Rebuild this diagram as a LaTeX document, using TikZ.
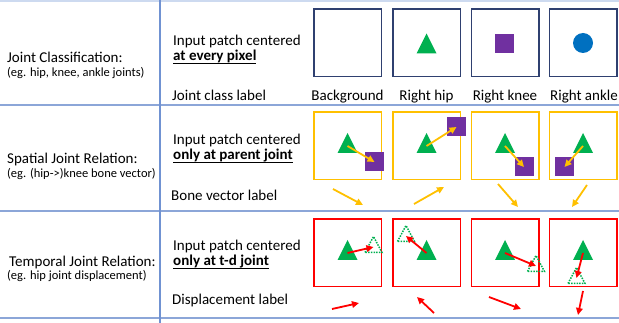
\documentclass[tikz,border=0pt]{standalone}
\usepackage{fontspec}
\setmainfont{Carlito}
\usetikzlibrary{arrows.meta}

\newsavebox\ulbox
\newcommand\ulbold[1]{\sbox\ulbox{\textbf{#1}}\rlap{\rule[-3.2pt]{\wd\ulbox}{1.1pt}}\usebox\ulbox}
\newcommand\hipjoint[1]{\fill[hipc] (#1) ++(-10,7) -- ++(10,-20) -- ++(10,20) -- cycle;}
\newcommand\ghostjoint[1]{\draw[hipc, line width=1.5pt, dash pattern=on 1.5pt off 1.2pt] (#1) ++(-8.5,5.5) -- ++(8.5,-16) -- ++(8.5,16) -- cycle;}

\begin{document}
\begin{tikzpicture}[x=1pt, y=-1pt, font=\fontsize{15}{18}\selectfont,
  patch/.style={draw, line width=1.5pt, minimum size=67.5pt, inner sep=0pt},
  txt/.style={anchor=base west, inner sep=0pt},
  small/.style={txt, font=\fontsize{12.5}{15}\selectfont},
  col/.style={anchor=base, inner sep=0pt},
  knee/.style={fill=kneec, minimum size=19pt, inner sep=0pt},
  ankle/.style={circle, fill=anklec, minimum size=20pt, inner sep=0pt},
  vec/.style={line width=1.8pt, -{Triangle[length=7pt,width=6.5pt]}}]
\definecolor{hipc}{RGB}{0,176,80}
\definecolor{kneec}{RGB}{112,48,160}
\definecolor{anklec}{RGB}{0,112,192}
\definecolor{navy}{RGB}{47,64,112}
\definecolor{amber}{RGB}{255,192,0}
\definecolor{rowline}{RGB}{140,166,216}
\definecolor{colline}{RGB}{112,146,210}
\definecolor{topline}{RGB}{205,218,240}
\useasboundingbox (0,0) rectangle (619,323);

% table rules
\draw[topline, line width=1.5pt] (0,1) -- (619,1);
\draw[rowline, line width=1.6pt] (0,105) -- (619,105);
\draw[rowline, line width=1.6pt] (0,211) -- (619,211);
\draw[rowline, line width=1.6pt] (0,318) -- (619,318);
\draw[colline, line width=1.6pt] (160,0) -- (160,323);

% left column
\node[txt] (task1) at (7,63) {Joint Classification:};
\node[small] (eg1) at (7,77) {(eg. hip, knee, ankle joints)};
\node[txt] (task2) at (7,164) {Spatial Joint Relation:};
\node[small] (eg2) at (7,178) {(eg. (hip->)knee bone vector)};
\node[txt] (task3) at (9,267) {Temporal Joint Relation:};
\node[small] (eg3) at (7,280) {(eg. hip joint displacement)};

% middle column
\node[txt] (in1) at (173,46) {Input patch centered};
\node[txt] (at1) at (173,61) {\ulbold{at every pixel}};
\node[txt] (lab1) at (172,101) {Joint class label};
\node[txt] (in2) at (173,145) {Input patch centered};
\node[txt] (at2) at (173,160) {\ulbold{only at parent joint}};
\node[txt] (lab2) at (171,201) {Bone vector label};
\node[txt] (in3) at (173,251) {Input patch centered};
\node[txt] (at3) at (173,266) {\ulbold{only at t-d joint}};
\node[txt] (lab3) at (172,305) {Displacement label};

% joint classification
\node[patch, draw=navy] (c1) at (347.5,43) {};
\node[patch, draw=navy] (c2) at (426.5,43) {};
\node[patch, draw=navy] (c3) at (505,43) {};
\node[patch, draw=navy] (c4) at (583,43) {};
\coordinate (h0) at (426.5,46.5);
\hipjoint{h0}
\node[knee] (k0) at (504.5,43.5) {};
\node[ankle] (a0) at (583,43) {};
\node[col] (bg) at (347.5,101) {Background};
\node[col] (rh) at (426.5,101) {Right hip};
\node[col] (rk) at (505,101) {Right knee};
\node[col] (ra) at (584,101) {Right ankle};

% spatial joint relation
\node[patch, draw=amber] (s1) at (347.5,146) {};
\node[patch, draw=amber] (s2) at (426.5,146) {};
\node[patch, draw=amber] (s3) at (505,146) {};
\node[patch, draw=amber] (s4) at (583,146) {};
\coordinate (h1) at (347.5,146);
\coordinate (h2) at (426.5,146);
\coordinate (h3) at (505,146);
\coordinate (h4) at (583,146);
\hipjoint{h1} \hipjoint{h2} \hipjoint{h3} \hipjoint{h4}
\node[knee] (k1) at (374.5,162) {};
\node[knee] (k2) at (456.5,127) {};
\node[knee] (k3) at (524,167) {};
\node[knee] (k4) at (564.5,167) {};
\draw[vec, amber] (h1) -- (k1.center);
\draw[vec, amber] (h2) -- (k2.center);
\draw[vec, amber] (h3) -- (k3.center);
\draw[vec, amber] (h4) -- (k4.center);
\coordinate (b1) at (333,189); \coordinate (e1) at (363,205);
\coordinate (b2) at (414,204); \coordinate (e2) at (444,187);
\coordinate (b3) at (498,184); \coordinate (e3) at (518,207);
\coordinate (b4) at (587,185); \coordinate (e4) at (572,207);
\draw[vec, amber] (b1) -- (e1);
\draw[vec, amber] (b2) -- (e2);
\draw[vec, amber] (b3) -- (e3);
\draw[vec, amber] (b4) -- (e4);

% temporal joint relation
\node[patch, draw=red] (t1) at (347.5,253) {};
\node[patch, draw=red] (t2) at (426.5,253) {};
\node[patch, draw=red] (t3) at (505,253) {};
\node[patch, draw=red] (t4) at (583,253) {};
\coordinate (m1) at (347.5,253);
\coordinate (m2) at (426.5,253);
\coordinate (m3) at (505,253);
\coordinate (m4) at (583,253);
\hipjoint{m1} \hipjoint{m2} \hipjoint{m3} \hipjoint{m4}
\coordinate (g1) at (373.5,247);
\coordinate (g2) at (406,236);
\coordinate (g3) at (536,266);
\coordinate (g4) at (576.5,278);
\ghostjoint{g1} \ghostjoint{g2} \ghostjoint{g3} \ghostjoint{g4}
\draw[vec, red] (m1) -- (g1);
\draw[vec, red] (m2) -- (g2);
\draw[vec, red] (m3) -- (g3);
\draw[vec, red] (m4) -- (g4);
\coordinate (d1) at (332,309); \coordinate (f1) at (359,303);
\coordinate (d2) at (434,313); \coordinate (f2) at (417,297);
\coordinate (d3) at (489,297); \coordinate (f3) at (521,309);
\coordinate (d4) at (583,291); \coordinate (f4) at (578,315);
\draw[vec, red] (d1) -- (f1);
\draw[vec, red] (d2) -- (f2);
\draw[vec, red] (d3) -- (f3);
\draw[vec, red] (d4) -- (f4);
\end{tikzpicture}
\end{document}
